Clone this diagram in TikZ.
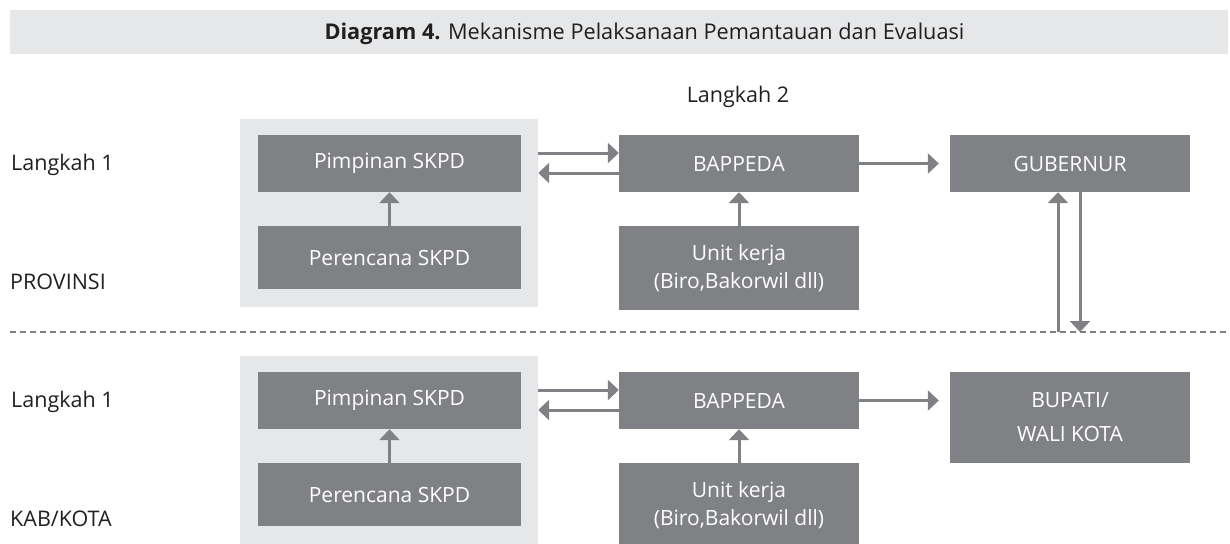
\documentclass[tikz,border=0pt]{standalone}
\usepackage{fontspec}
\setmainfont{Open Sans}
\usetikzlibrary{arrows.meta,calc}
\definecolor{boxgray}{HTML}{808184}
\definecolor{lightgray}{HTML}{E6E7E8}
\definecolor{txt}{HTML}{231F20}
\begin{document}
\begin{tikzpicture}[x=1pt,y=-1pt,
  dbox/.style={fill=boxgray, text=white, inner sep=0, align=center, minimum width=240pt,
    font=\fontsize{21}{28}\selectfont},
  lbox/.style={fill=lightgray, inner sep=0, minimum width=298pt, minimum height=188pt},
  lab/.style={anchor=west, inner sep=0, text=txt, font=\fontsize{21.5}{26}\selectfont},
  arr/.style={draw=boxgray, line width=3pt, -{Triangle[length=11pt,width=20pt]}},
  sep/.style={draw=boxgray, line width=2pt, dash pattern=on 6pt off 4pt}]
\useasboundingbox (0,0) rectangle (1230,543);
% header
\node[fill=lightgray, minimum width=1218pt, minimum height=44pt, inner sep=0] (band) at (619,32) {};
\node[text=txt, inner sep=0, font=\fontsize{21.7}{26}\selectfont] (title) at (644.5,34)
  {\textbf{Diagram 4.} Mekanisme Pelaksanaan Pemantauan dan Evaluasi};
\node[text=txt, inner sep=0, font=\fontsize{21.5}{26}\selectfont] (l2) at (738,97) {Langkah 2};
% labels
\node[lab] (la) at (11,165) {Langkah 1};
\node[lab] (prov) at (10,282) {PROVINSI};
\node[lab] (lb) at (11,402) {Langkah 1};
\node[lab] (kab) at (10,519) {KAB/KOTA};
% upper
\node[lbox] (lboxA) at (389,213) {};
\node[dbox, minimum width=263pt, minimum height=57pt] (pimA) at (389.5,163.5) {Pimpinan SKPD};
\node[dbox, minimum width=263pt, minimum height=63pt] (perA) at (389.5,257.5) {Perencana SKPD};
\node[dbox, minimum height=57pt] (bapA) at (739,163.5) {BAPPEDA};
\node[dbox, minimum height=84pt] (unitA) at (739,268) {Unit kerja\\(Biro,Bakorwil dll)};
\node[dbox, minimum height=57pt] (gubA) at (1070,163.5) {GUBERNUR};
% lower
\node[lbox] (lboxB) at (389,450) {};
\node[dbox, minimum width=263pt, minimum height=57pt] (pimB) at (389.5,400.5) {Pimpinan SKPD};
\node[dbox, minimum width=263pt, minimum height=63pt] (perB) at (389.5,494.5) {Perencana SKPD};
\node[dbox, minimum height=57pt] (bapB) at (739,400.5) {BAPPEDA};
\node[dbox, minimum height=84pt] (unitB) at (739,505) {Unit kerja\\(Biro,Bakorwil dll)};
\node[dbox, minimum height=91pt, font=\fontsize{21}{34}\selectfont] (bupB) at (1070,417.5) {BUPATI/\\WALI KOTA};
% separator
\coordinate (dl) at (10,332);
\coordinate (dr) at (1230,332);
\draw[sep] (dl) -- (dr);
\coordinate (upstart) at (1058,332);
\coordinate (downend) at (1080,332);
% arrows upper
\draw[arr] ([yshift=60pt]lboxA.east) -- ([yshift=10.5pt]bapA.west);
\draw[arr] ([yshift=-9.5pt]bapA.west) -- ([yshift=40pt]lboxA.east);
\draw[arr] (perA.north) -- (pimA.south);
\draw[arr] (unitA.north) -- (bapA.south);
\draw[arr] (bapA.east) -- ($(gubA.west)+(-11,0)$);
\draw[arr] (upstart) -- (upstart |- gubA.south);
\draw[arr] (downend |- gubA.south) -- (downend);
% arrows lower
\draw[arr] ([yshift=60pt]lboxB.east) -- ([yshift=10.5pt]bapB.west);
\draw[arr] ([yshift=-9.5pt]bapB.west) -- ([yshift=40pt]lboxB.east);
\draw[arr] (perB.north) -- (pimB.south);
\draw[arr] (unitB.north) -- (bapB.south);
\draw[arr] (bapB.east) -- ($(bupB.west |- bapB.east)+(-11,0)$);
\end{tikzpicture}
\end{document}
